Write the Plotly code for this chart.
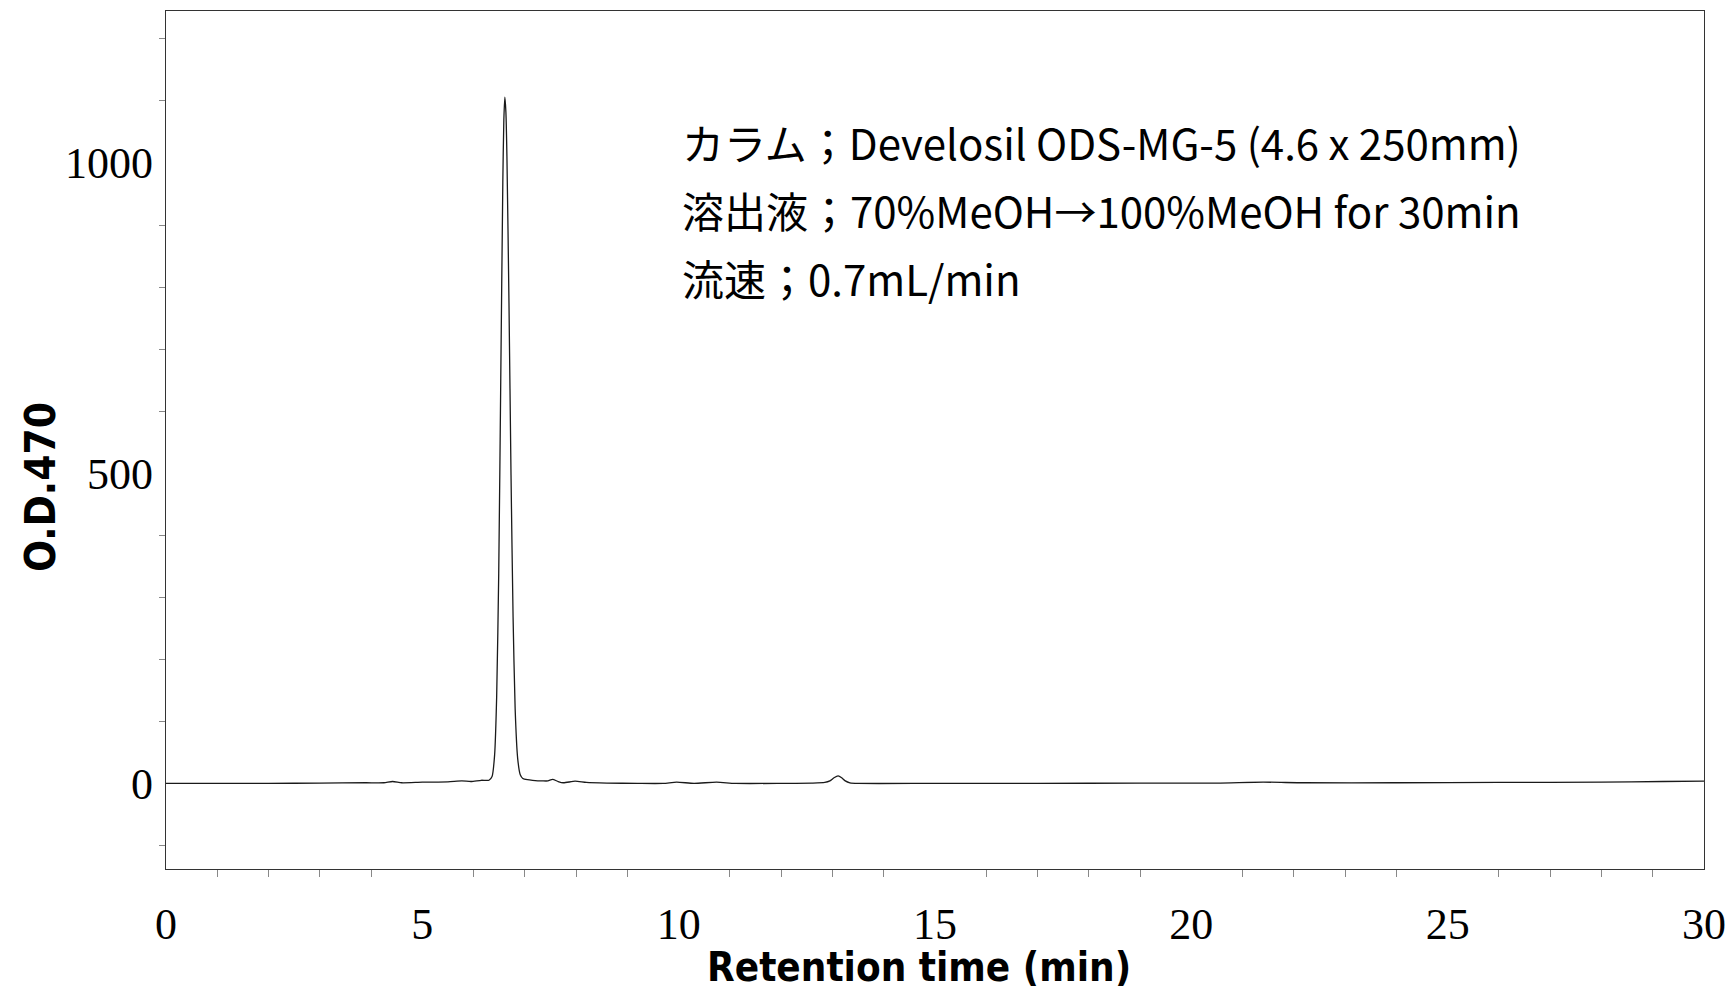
import plotly.graph_objects as go

# Chromatogram trace (retention time in min, O.D.470)
time_min = [0.0, 1.0, 2.0, 3.0, 3.9, 4.25, 4.42, 4.6, 5.0, 5.5, 5.77, 5.95, 6.15, 6.30,
            6.36, 6.41, 6.45, 6.49, 6.53, 6.57, 6.59, 6.61, 6.63, 6.65, 6.69, 6.73, 6.77,
            6.81, 6.86, 6.91, 6.96, 7.05, 7.15, 7.35, 7.45, 7.54, 7.65, 7.75, 7.98, 8.2,
            8.6, 9.2, 9.7, 9.96, 10.3, 10.74, 11.1, 12.0, 12.6, 12.85, 12.95, 13.03,
            13.11, 13.18, 13.25, 13.34, 13.5, 15.0, 17.0, 19.0, 20.5, 21.4, 22.2, 24.0,
            26.0, 28.0, 29.2, 30.0]
od470 = [0, 0, 0, 0.5, 1, 1, 3, 1, 2, 2.5, 4, 3, 5, 5,
         11, 46, 140, 338, 653, 969, 1070, 1106, 1082, 1011, 775, 497, 268,
         121, 40, 14, 8, 6, 5, 4, 4, 6.5, 3, 1, 3.5, 1.5,
         0.5, 0, 0, 2, 0, 2, 0, 0, 0.5, 1.5, 4, 9,
         12, 9, 4, 1, 0, 0, 0, 0.5, 0.5, 2, 1, 1,
         1.5, 2, 3, 3.5]

x_labels = [0, 5, 10, 15, 20, 25, 30]
x_minor = [v for v in range(0, 31) if v % 5 != 0]
y_labels = [0, 500, 1000]
y_minor = [v for v in range(-100, 1201, 100) if v % 500 != 0]

info_lines = [
    "カラム；Develosil ODS-MG-5 (4.6 x 250mm)",
    "溶出液；70%MeOH→100%MeOH for 30min",
    "流速；0.7mL/min",
]
info_y = [0.848, 0.7687, 0.6895]

TITLE_FONT = "DejaVu Sans Condensed, Liberation Sans Narrow, Liberation Sans, sans-serif"

fig = go.Figure()
fig.add_trace(go.Scatter(
    x=time_min, y=od470, mode="lines",
    line=dict(color="#1a1a1a", width=1.3, shape="spline", smoothing=0.6),
    showlegend=False, hoverinfo="x+y",
))

axis_common = dict(
    showline=True, linecolor="#333333", linewidth=1.4, mirror=True,
    showgrid=False, zeroline=False, ticks="",
    tickfont=dict(family="Liberation Serif, Times New Roman, serif", size=44, color="black"),
)

fig.update_xaxes(
    range=[0, 30], tickmode="array", tickvals=x_labels,
    ticktext=[str(v) for v in x_labels], ticklabelstandoff=16,
    minor=dict(tickmode="array", tickvals=x_minor, ticks="outside", ticklen=7,
               tickcolor="#888888", tickwidth=1),
    **axis_common,
)
fig.update_yaxes(
    range=[-138, 1245], tickmode="array", tickvals=y_labels,
    ticktext=[str(v) for v in y_labels], ticklabelstandoff=3,
    minor=dict(tickmode="array", tickvals=y_minor, ticks="outside", ticklen=6,
               tickcolor="#888888", tickwidth=1),
    **axis_common,
)

annotations = []
for txt, yy in zip(info_lines, info_y):
    annotations.append(dict(
        text=txt, xref="paper", yref="paper", x=0.3342, y=yy,
        xanchor="left", yanchor="middle", showarrow=False,
        font=dict(family="Noto Sans CJK JP, Noto Sans, sans-serif", size=42, color="black"),
    ))
annotations.append(dict(
    text="<b>O.D.470</b>", xref="paper", yref="paper", x=-0.0819, y=0.4452,
    xanchor="center", yanchor="middle", textangle=-90, showarrow=False,
    font=dict(family=TITLE_FONT, size=42, color="black"),
))
annotations.append(dict(
    text="<b>Retention time (min)</b>", xref="paper", yref="paper", x=0.4896, y=-0.1145,
    xanchor="center", yanchor="middle", showarrow=False,
    font=dict(family=TITLE_FONT, size=40, color="black"),
))

fig.update_layout(
    width=1735, height=986,
    margin=dict(l=158, r=39, t=3, b=125),
    paper_bgcolor="white", plot_bgcolor="white",
    annotations=annotations,
)

fig.write_html("out.html")
